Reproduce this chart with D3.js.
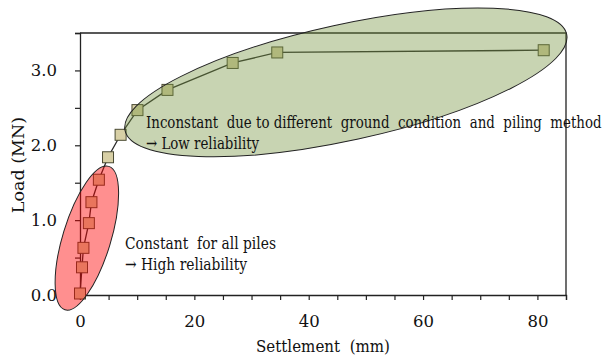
<!DOCTYPE html>
<html lang="en">
<head>
<meta charset="UTF-8">
<title>Load - settlement curve</title>
<script src="https://d3js.org/d3.v7.min.js"></script>
<style>
  body { margin: 0; background: #fff; }
</style>
</head>
<body>
<svg width="603" height="363"></svg>
<script>
// values
const settlement = [0, 0.35, 0.6, 1.55, 2.0, 3.3, 4.9, 7.1, 10.05, 15.3, 26.7, 34.5, 81.1];
const load = [0.02, 0.37, 0.63, 0.96, 1.24, 1.54, 1.84, 2.14, 2.47, 2.74, 3.10, 3.24, 3.27];
const xTicks = [0, 20, 40, 60, 80];
const yTicks = [0, 1, 2, 3];
const yTickLabels = ['0.0', '1.0', '2.0', '3.0'];
const notes = [
    ['Inconstant  due to different  ground  condition  and  piling  method', '\u2192 Low reliability'],
    ['Constant  for all piles', '\u2192 High reliability']
];

const FONT = '"DejaVu Serif", serif';
const svg = d3.select('svg');
const x = d3.scaleLinear().domain([0, 85]).range([80, 566]);
const y = d3.scaleLinear().domain([0, 3.5]).range([295, 33]);

// DejaVu Serif is wider than the Times face of the original: squeeze it sideways
function squeeze(node, width) {
    return Math.min(1, width / node.getComputedTextLength());
}

// frame top + right
svg.append('path')
    .attr('d', `M${x(0)},${y(3.5)}H${x(85)}V${y(0)}`)
    .attr('fill', 'none').attr('stroke', '#222').attr('stroke-width', 1.3);

const xAxis = svg.append('g').attr('transform', `translate(0,${y(0)})`)
    .call(d3.axisBottom(x).tickValues(d3.range(0, 86, 5)).tickSize(5).tickPadding(15)
        .tickFormat(d => xTicks.includes(d) ? d : ''));
const yAxis = svg.append('g').attr('transform', `translate(${x(0)},0)`)
    .call(d3.axisLeft(y).tickValues(d3.range(0, 3.51, 0.5)).tickSize(5).tickPadding(18)
        .tickFormat(d => yTicks.includes(d) ? yTickLabels[yTicks.indexOf(d)] : ''));
[xAxis, yAxis].forEach(a => {
    a.attr('font-family', FONT).attr('font-size', 16.5);
    a.select('.domain').attr('stroke', '#222').attr('stroke-width', 1.3);
    a.selectAll('.tick line').attr('stroke', '#222').attr('stroke-width', 1.2);
    a.selectAll('text').attr('fill', '#111');
});

const xt = svg.append('text').attr('text-anchor', 'middle')
    .attr('xml:space', 'preserve').attr('font-family', FONT).attr('font-size', 17.5)
    .attr('fill', '#111').text('Settlement  (mm)');
xt.attr('transform', `translate(323,352) scale(${squeeze(xt.node(), 134)},1)`);
const yt = svg.append('text').attr('text-anchor', 'middle')
    .attr('font-family', FONT).attr('font-size', 17.5).attr('fill', '#111').text('Load (MN)');
yt.attr('transform', `translate(24,165) rotate(-90) scale(${squeeze(yt.node(), 101)},1)`);

const pts = settlement.map((s, i) => [s, load[i]]);
svg.append('path').datum(pts)
    .attr('d', d3.line().x(d => x(d[0])).y(d => y(d[1])))
    .attr('fill', 'none').attr('stroke', '#2a2a2a').attr('stroke-width', 1.3);
svg.selectAll('rect.pt').data(pts).join('rect').attr('class', 'pt')
    .attr('x', d => x(d[0]) - 5.5).attr('y', d => y(d[1]) - 5.5)
    .attr('width', 11).attr('height', 11)
    .attr('fill', '#d8d0a6').attr('stroke', '#4a4a32').attr('stroke-width', 1);

// highlight ellipses (centre in data units)
const zones = [
    { cx: 1.2, cy: 0.76, rx: 24, ry: 75, rot: 17, fill: 'rgba(255,0,0,0.44)' },
    { cx: 46.5, cy: 2.84, rx: 226, ry: 58, rot: -12.3, fill: 'rgba(118,148,62,0.4)' }
];
svg.selectAll('ellipse').data(zones).join('ellipse')
    .attr('cx', d => x(d.cx)).attr('cy', d => y(d.cy))
    .attr('rx', d => d.rx).attr('ry', d => d.ry)
    .attr('transform', d => `rotate(${d.rot},${x(d.cx)},${y(d.cy)})`)
    .attr('fill', d => d.fill).attr('stroke', '#222').attr('stroke-width', 1);

const notePos = [[146, 128], [125, 249]];
const noteWidth = [456, 151];
notes.forEach((lines, i) => {
    const t = svg.append('text').attr('xml:space', 'preserve')
        .attr('font-family', FONT).attr('font-size', 17).attr('fill', '#111');
    const spans = lines.map((l, j) => t.append('tspan').attr('x', 0)
        .attr('y', j * 21).text(l));
    const k = squeeze(spans[0].node(), noteWidth[i]);
    t.attr('transform', `translate(${notePos[i][0]},${notePos[i][1]}) scale(${k},1)`);
});
</script>
</body>
</html>
